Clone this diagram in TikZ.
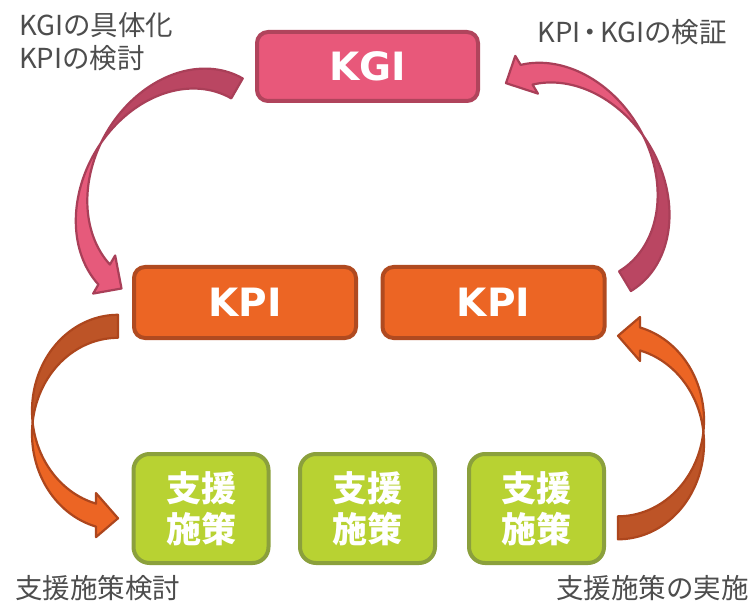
\documentclass[tikz,border=0pt]{standalone}
\usepackage{fontspec}
\setmainfont{Noto Sans CJK JP}
\newfontfamily\latfont{DejaVu Sans}
\usetikzlibrary{calc}
\definecolor{kgifill}{HTML}{E8587A}
\definecolor{kgiborder}{HTML}{B0445C}
\definecolor{kpifill}{HTML}{EC6524}
\definecolor{kpiborder}{HTML}{B04A20}
\definecolor{grnfill}{HTML}{B8D232}
\definecolor{grnborder}{HTML}{8BA03C}
\definecolor{pinklight}{HTML}{E65A7B}
\definecolor{pinkdark}{HTML}{BA4662}
\definecolor{pinkline}{HTML}{A93F58}
\definecolor{orlight}{HTML}{EC6524}
\definecolor{ordark}{HTML}{BD5427}
\definecolor{orline}{HTML}{AD461D}
\definecolor{labelgray}{HTML}{4D4D4D}
\pgfdeclarelayer{bg}
\pgfsetlayers{bg,main}
\tikzset{
  arrline/.style={line width=2.2pt, line join=round},
  boxbase/.style={line width=4pt, inner sep=0pt, text=white},
  kgibox/.style={boxbase, draw=kgiborder, fill=kgifill, rounded corners=11pt,
    minimum width=221pt, minimum height=69pt, font=\latfont\bfseries\fontsize{39}{39}\selectfont},
  kpibox/.style={boxbase, draw=kpiborder, fill=kpifill, rounded corners=11pt,
    minimum width=222pt, minimum height=71pt, font=\latfont\bfseries\fontsize{39}{39}\selectfont},
  grnbox/.style={boxbase, draw=grnborder, fill=grnfill, rounded corners=16pt,
    minimum width=135pt, minimum height=109pt, align=center,
    font=\bfseries\fontsize{35}{41}\selectfont},
  pinkconn/.style={draw=kgifill, line width=1pt},
  orconn/.style={draw=kpifill, line width=1.2pt},
  lbl/.style={text=labelgray, inner sep=0pt, font=\fontsize{27.5}{34}\selectfont},
}
% #1,#2 centre; #3 rotation; #4 rx; #5 ry; #6 dark; #7 light; #8 outline
\newcommand{\ribbonarrow}[8]{%
\begin{scope}[shift={(#1,#2)},rotate=#3]
  \pgfmathsetmacro{\aRx}{#4}
  \pgfmathsetmacro{\aRy}{#5}
  \pgfmathsetmacro{\aT}{23}
  \pgfmathsetmacro{\aL}{22}
  \pgfmathsetmacro{\aW}{22}
  \pgfmathsetmacro{\aC}{asin(\aT/(2*\aRy))}
  \pgfmathsetmacro{\aH}{acos(-\aL/\aRx)-360}
  \pgfmathsetmacro{\aY}{\aRy*sin(\aH)+\aT/2}
  \filldraw[fill=#6,draw=#8,arrline]
    plot[domain=-90:{-180-\aC},samples=50,variable=\t] ({\aRx*cos(\t)},{\aRy*sin(\t)})
    -- plot[domain={-180+\aC}:-90,samples=50,variable=\t] ({\aRx*cos(\t)},{\aT+\aRy*sin(\t)})
    -- cycle;
  \filldraw[fill=#7,draw=#8,arrline]
    plot[domain={-180+\aC}:{\aH},samples=50,variable=\t] ({\aRx*cos(\t)},{\aT+\aRy*sin(\t)})
    -- ({-\aL},{\aY+\aW}) -- (0,{\aRy+\aT/2}) -- ({-\aL},{\aY-\aW})
    -- plot[domain={\aH}:{-180-\aC},samples=50,variable=\t] ({\aRx*cos(\t)},{\aRy*sin(\t)})
    -- cycle;
\end{scope}}
\begin{document}
\begin{tikzpicture}[x=1pt,y=-1pt]
  \fill[white] (0,0) rectangle (751,601);
  \useasboundingbox (0,0) rectangle (751,601);

  % curved arrows
  \ribbonarrow{185}{178.5}{-30}{91}{115.5}{pinkdark}{pinklight}{pinkline}
  \ribbonarrow{571.4}{192}{-149}{91}{115.5}{pinkdark}{pinklight}{pinkline}
  \ribbonarrow{118}{410.8}{0}{86}{96}{ordark}{orlight}{orline}
  \ribbonarrow{618}{443.3}{180}{86}{96}{ordark}{orlight}{orline}

  % boxes
  \node[kgibox] (kgi) at (367.5,66.5) {KGI};
  \node[kpibox] (kpi1) at (245,302.5) {KPI};
  \node[kpibox] (kpi2) at (493.5,302.5) {KPI};
  \node[grnbox] (g1) at (201,508.5) {支援\\施策};
  \node[grnbox] (g2) at (367.5,508.5) {支援\\施策};
  \node[grnbox] (g3) at (536.5,508.5) {支援\\施策};

  % connectors
  \begin{pgfonlayer}{bg}
    \draw[pinkconn] (kgi.south) -- (kpi1.north);
    \draw[pinkconn] (kgi.south) -- (kpi2.north);
    \draw[orconn] (kpi1.south) -- (g1.north);
    \draw[orconn] (kpi1.south) -- (g2.north);
    \draw[orconn] (kpi2.south) -- (g1.north);
    \draw[orconn] (kpi2.south) -- (g3.north);
  \end{pgfonlayer}

  % labels
  \node[lbl, anchor=west] (l1a) at (19,25) {KGIの具体化};
  \node[lbl, anchor=west] (l1b) at (19,58) {KPIの検討};
  \node[lbl, anchor=east] (l2) at (727,32) {KPI\kern-4pt・\kern-4pt KGIの検証};
  \node[lbl, anchor=west] (l3) at (15,588) {支援施策検討};
  \node[lbl, anchor=east] (l4) at (749,588) {支援施策の実施};
\end{tikzpicture}
\end{document}
